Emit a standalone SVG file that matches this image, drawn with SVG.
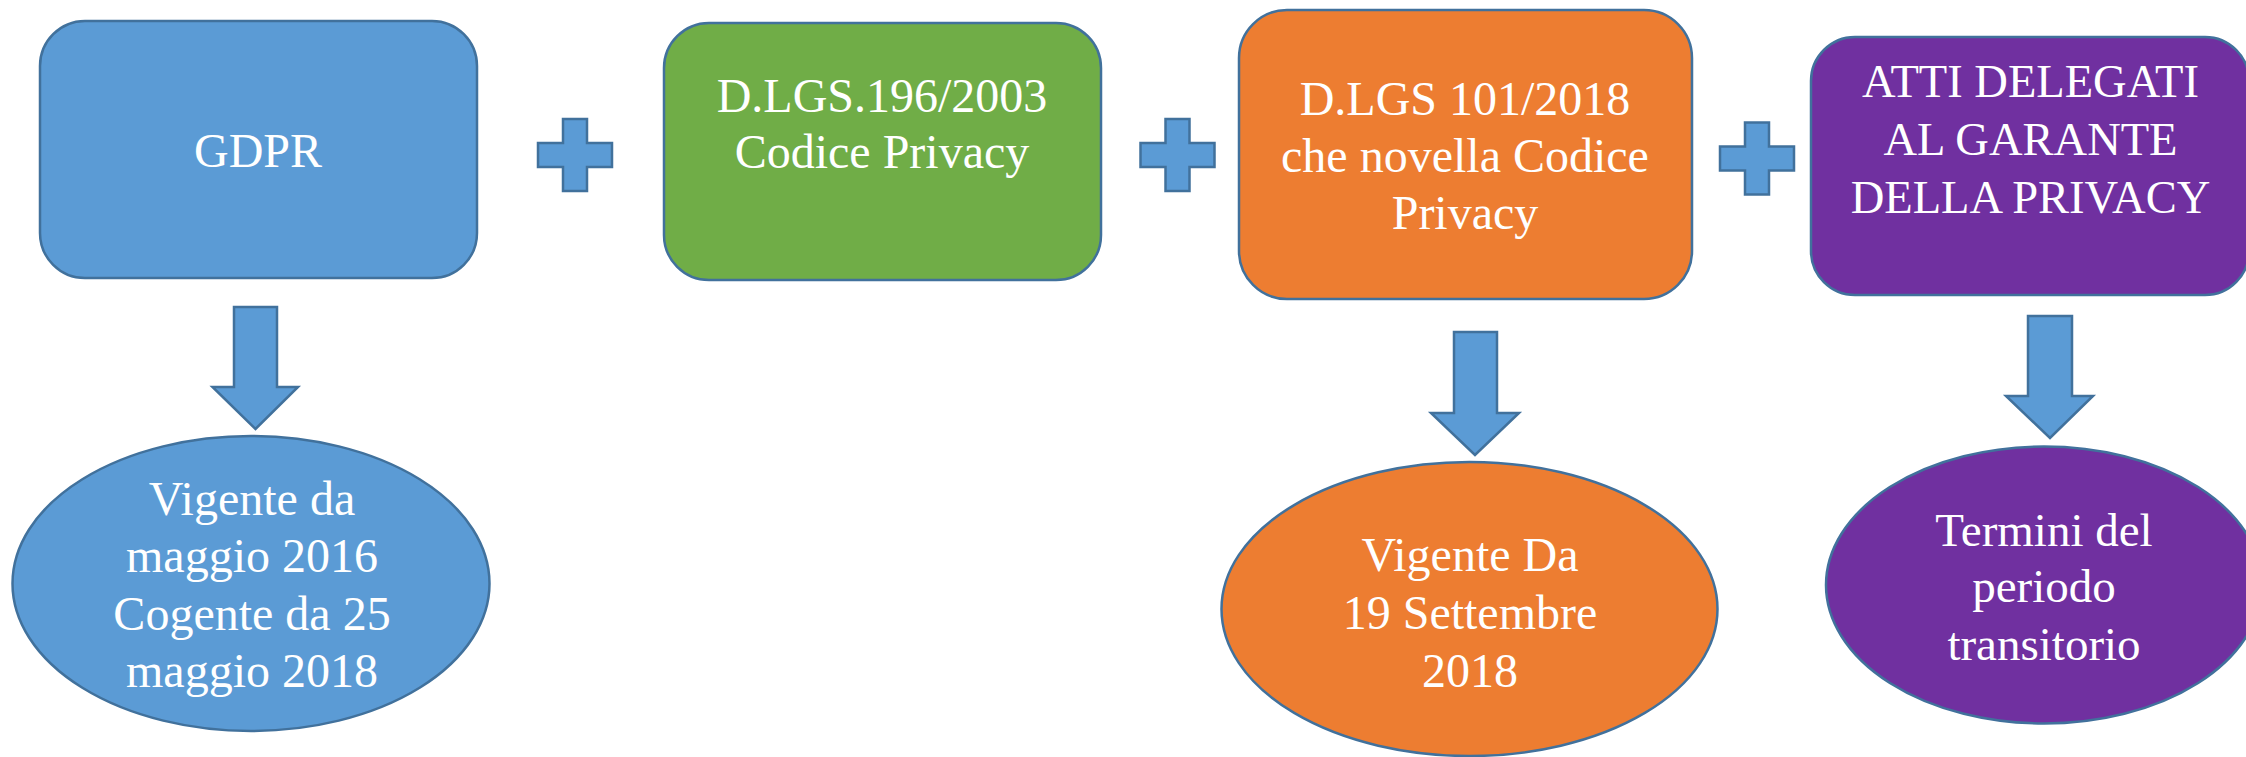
<svg xmlns="http://www.w3.org/2000/svg" width="2246" height="757" viewBox="0 0 2246 757">
<style>
.sh{stroke:#41719C;stroke-width:2.5}
.blue{fill:#5B9BD5}
.green{fill:#70AD47}
.orange{fill:#ED7D31}
.purple{fill:#7030A0}
.t{font-family:"Liberation Serif","Times New Roman",serif;font-size:48px;fill:#FFFFFF;text-anchor:middle}
.tp{font-size:46.5px}
.tq{font-size:47px}
</style>
<rect width="2246" height="757" fill="#FFFFFF"/>
<g id="gdpr">
<rect class="sh blue" x="40" y="21" width="437" height="257" rx="45" ry="45"/>
<text class="t" x="258" y="167">GDPR</text>
</g>
<g id="dlgs196">
<rect class="sh green" x="664" y="23" width="437" height="257" rx="45" ry="45"/>
<text class="t" x="882" y="112">D.LGS.196/2003</text>
<text class="t" x="882" y="168">Codice Privacy</text>
</g>
<g id="dlgs101">
<rect class="sh orange" x="1239" y="10" width="453" height="289" rx="48" ry="48"/>
<text class="t" x="1465" y="115">D.LGS 101/2018</text>
<text class="t" x="1465" y="172">che novella Codice</text>
<text class="t" x="1465" y="229">Privacy</text>
</g>
<g id="atti">
<rect class="sh purple" x="1811" y="37" width="438" height="258" rx="44" ry="44"/>
<text class="t tp" x="2030.5" y="97">ATTI DELEGATI</text>
<text class="t tp" x="2030.5" y="155">AL GARANTE</text>
<text class="t tp" x="2030.5" y="212.5">DELLA PRIVACY</text>
</g>
<g id="vigente1">
<ellipse class="sh blue" cx="251" cy="583.5" rx="238.5" ry="147.5"/>
<text class="t" x="252" y="515">Vigente da</text>
<text class="t" x="252" y="572">maggio 2016</text>
<text class="t" x="252" y="630">Cogente da 25</text>
<text class="t" x="252" y="687">maggio 2018</text>
</g>
<g id="vigente2">
<ellipse class="sh orange" cx="1469.5" cy="609" rx="248" ry="147"/>
<text class="t" x="1470" y="571">Vigente Da</text>
<text class="t" x="1470" y="629">19 Settembre</text>
<text class="t" x="1470" y="687">2018</text>
</g>
<g id="termini">
<ellipse class="sh purple" cx="2044" cy="585" rx="218" ry="138.5"/>
<text class="t tq" x="2044" y="546">Termini del</text>
<text class="t tq" x="2044" y="602">periodo</text>
<text class="t tq" x="2044" y="660">transitorio</text>
</g>
<g id="connectors">
<path class="sh blue" d="M563,119 H587 V143 H612 V167 H587 V191 H563 V167 H538 V143 H563 Z"/>
<path class="sh blue" d="M1165.5,119 H1189.5 V143 H1214.5 V167 H1189.5 V191 H1165.5 V167 H1140.5 V143 H1165.5 Z"/>
<path class="sh blue" d="M1745,122.5 H1769 V146.5 H1794 V170.5 H1769 V194.5 H1745 V170.5 H1720 V146.5 H1745 Z"/>
<path class="sh blue" d="M234,307 H277 V387 H298 L255.5,429 L212.5,387 H234 Z"/>
<path class="sh blue" d="M1454,332 H1497 V413 H1519 L1475,455 L1431,413 H1454 Z"/>
<path class="sh blue" d="M2028,316 H2072 V396 H2093 L2050,438 L2006,396 H2028 Z"/>
</g>
</svg>
